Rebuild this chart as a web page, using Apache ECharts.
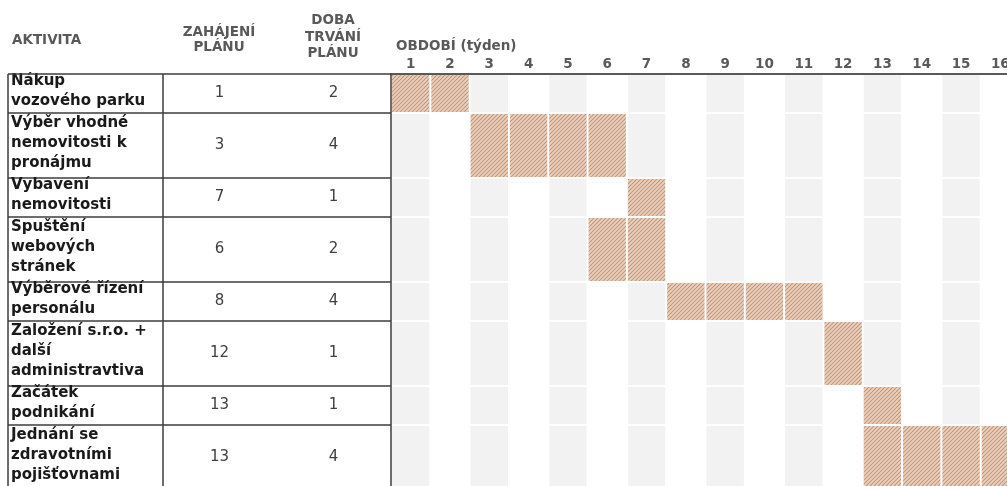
<!DOCTYPE html>
<html>
<head>
<meta charset="utf-8">
<script src="https://cdn.jsdelivr.net/npm/echarts@6/dist/echarts.min.js"></script>
<style>
html,body{margin:0;padding:0;background:#fff;}
#chart{width:1007px;height:486px;}
</style>
</head>
<body>
<div id="chart"></div>
<script>
// ---- data ----
const activities = [
  'Nákup\nvozového parku',
  'Výběr vhodné\nnemovitosti k\npronájmu',
  'Vybavení\nnemovitosti',
  'Spuštění\nwebových\nstránek',
  'Výběrové řízení\npersonálu',
  'Založení s.r.o. +\ndalší\nadministravtiva',
  'Začátek\npodnikání',
  'Jednání se\nzdravotními\npojišťovnami'
];
const planStart = [1, 3, 7, 6, 8, 12, 13, 13];
const planDuration = [2, 4, 1, 2, 4, 1, 1, 4];
const weeks = ['1','2','3','4','5','6','7','8','9','10','11','12','13','14','15','16'];
const headerActivity = 'AKTIVITA';
const headerStart = 'ZAHÁJENÍ\nPLÁNU';
const headerDuration = 'DOBA\nTRVÁNÍ\nPLÁNU';
const headerPeriod = 'OBDOBÍ (týden)';

// ---- layout (derived from number of text lines) ----
const lineCount = activities.map(a => a.split('\n').length);
const rowHeight = lineCount.map(n => n >= 3 ? 65 : 39);
const rowTop = [];
let acc = 0;
rowHeight.forEach(h => { rowTop.push(acc); acc += h; });
const totalH = acc;
const colWidths = [155, 113, 115];

const FONT = '"DejaVu Sans", sans-serif';
const GREY = '#595959';

// hatch pattern
const pat = document.createElement('canvas');
pat.width = 4; pat.height = 4;
(function(){
  const c = pat.getContext('2d');
  c.fillStyle = '#f0d1b8';
  c.fillRect(0,0,4,4);
  c.strokeStyle = '#b79886';
  c.lineWidth = 1.1;
  c.beginPath();
  c.moveTo(-1,5); c.lineTo(5,-1);
  c.moveTo(-1,1); c.lineTo(1,-1);
  c.moveTo(3,5); c.lineTo(5,3);
  c.stroke();
})();

const rowIdx = activities.map((a, i) => i);
const bgData = [];
rowIdx.forEach(r => weeks.forEach((w, k) => bgData.push([k, r])));
const barData = rowIdx.map(i => [planStart[i], planDuration[i], i]);
const tableData = rowIdx.map(i => [i, planStart[i], planDuration[i]]);

function rowPix(api, r) {
  const y1 = api.coord([0, rowTop[r]])[1];
  const y2 = api.coord([0, rowTop[r] + rowHeight[r]])[1];
  return [y1, y2];
}

const chart = echarts.init(document.getElementById('chart'), null, {renderer: 'canvas'});
chart.setOption({
  backgroundColor: '#ffffff',
  animation: false,
  grid: [
    {left: 391, top: 74, width: 629, height: totalH, outerBoundsMode: 'none', containLabel: false},
    {left: 8, top: 74, width: 383, height: totalH, outerBoundsMode: 'none', containLabel: false}
  ],
  xAxis: [
    {
      gridIndex: 0, type: 'category', data: weeks, position: 'top',
      axisLine: {show: true, lineStyle: {color: GREY, width: 2}},
      axisTick: {show: false},
      axisLabel: {color: GREY, fontWeight: 'bold', fontSize: 13.5, fontFamily: FONT, margin: 3},
      splitLine: {show: false}
    },
    {gridIndex: 1, type: 'value', min: 0, max: 1, show: false}
  ],
  yAxis: [
    {gridIndex: 0, type: 'value', min: 0, max: totalH, inverse: true, show: false},
    {gridIndex: 1, type: 'value', min: 0, max: totalH, inverse: true, show: false}
  ],
  graphic: [
    {type: 'text', style: {text: headerActivity, x: 12, y: 40, align: 'left', verticalAlign: 'middle', fill: GREY, font: 'bold 13.5px ' + FONT}},
    {type: 'text', style: {text: headerStart, x: 219, y: 40, align: 'center', verticalAlign: 'middle', lineHeight: 15, fill: GREY, font: 'bold 13.5px ' + FONT}},
    {type: 'text', style: {text: headerDuration, x: 333, y: 37, align: 'center', verticalAlign: 'middle', lineHeight: 16.5, fill: GREY, font: 'bold 13.5px ' + FONT}},
    {type: 'text', style: {text: headerPeriod, x: 396, y: 46, align: 'left', verticalAlign: 'middle', fill: GREY, font: 'bold 13.5px ' + FONT}}
  ],
  series: [
    {
      type: 'custom', xAxisIndex: 0, yAxisIndex: 0, data: bgData, clip: true,
      renderItem: function (params, api) {
        const k = api.value(0), r = api.value(1);
        if (k % 2 === 1) return null;
        const xc = api.coord([k, 0])[0];
        const bw = api.size([1, 0])[0];
        const [y1, y2] = rowPix(api, r);
        return {type: 'rect', shape: {x: xc - bw / 2 + 1, y: y1 + 1, width: bw - 2, height: y2 - y1 - 2}, style: {fill: '#f2f2f2'}};
      }
    },
    {
      type: 'custom', xAxisIndex: 0, yAxisIndex: 0, data: barData, clip: true,
      renderItem: function (params, api) {
        const s = api.value(0), d = api.value(1), r = api.value(2);
        const bw = api.size([1, 0])[0];
        const [y1, y2] = rowPix(api, r);
        const children = [];
        for (let w = s; w < s + d; w++) {
          const xc = api.coord([w - 1, 0])[0];
          children.push({type: 'rect', shape: {x: xc - bw / 2 + 1, y: y1 + 1, width: bw - 2, height: y2 - y1 - 2},
            style: {fill: {image: pat, repeat: 'repeat'}}});
        }
        return {type: 'group', children: children};
      }
    },
    {
      type: 'custom', xAxisIndex: 1, yAxisIndex: 1, data: tableData,
      renderItem: function (params, api) {
        const r = api.value(0);
        const cs = params.coordSys;
        const [y1, y2] = rowPix(api, r);
        const x0 = cs.x, x1 = x0 + colWidths[0], x2 = x1 + colWidths[1], x3 = x2 + colWidths[2];
        const ym = (y1 + y2) / 2;
        const ls = {stroke: '#3c3c3c', lineWidth: 1.5};
        const ch = [
          {type: 'text', style: {text: activities[r], x: x0 + 3, y: ym - 2, align: 'left', verticalAlign: 'middle', lineHeight: 20, fill: '#1a1a1a', font: 'bold 15px ' + FONT}},
          {type: 'text', style: {text: String(api.value(1)), x: (x1 + x2) / 2, y: ym, align: 'center', verticalAlign: 'middle', fill: '#404040', font: '15px ' + FONT}},
          {type: 'text', style: {text: String(api.value(2)), x: (x2 + x3) / 2, y: ym, align: 'center', verticalAlign: 'middle', fill: '#404040', font: '15px ' + FONT}},
          {type: 'line', shape: {x1: x0, y1: y2, x2: x3, y2: y2}, style: ls},
          {type: 'line', shape: {x1: x0, y1: y1, x2: x0, y2: y2}, style: ls},
          {type: 'line', shape: {x1: x1, y1: y1, x2: x1, y2: y2}, style: ls},
          {type: 'line', shape: {x1: x3, y1: y1, x2: x3, y2: y2}, style: ls}
        ];
        if (r === 0) ch.push({type: 'line', shape: {x1: x0, y1: y1, x2: x3, y2: y1}, style: ls});
        return {type: 'group', children: ch};
      }
    }
  ]
});
</script>
</body>
</html>
